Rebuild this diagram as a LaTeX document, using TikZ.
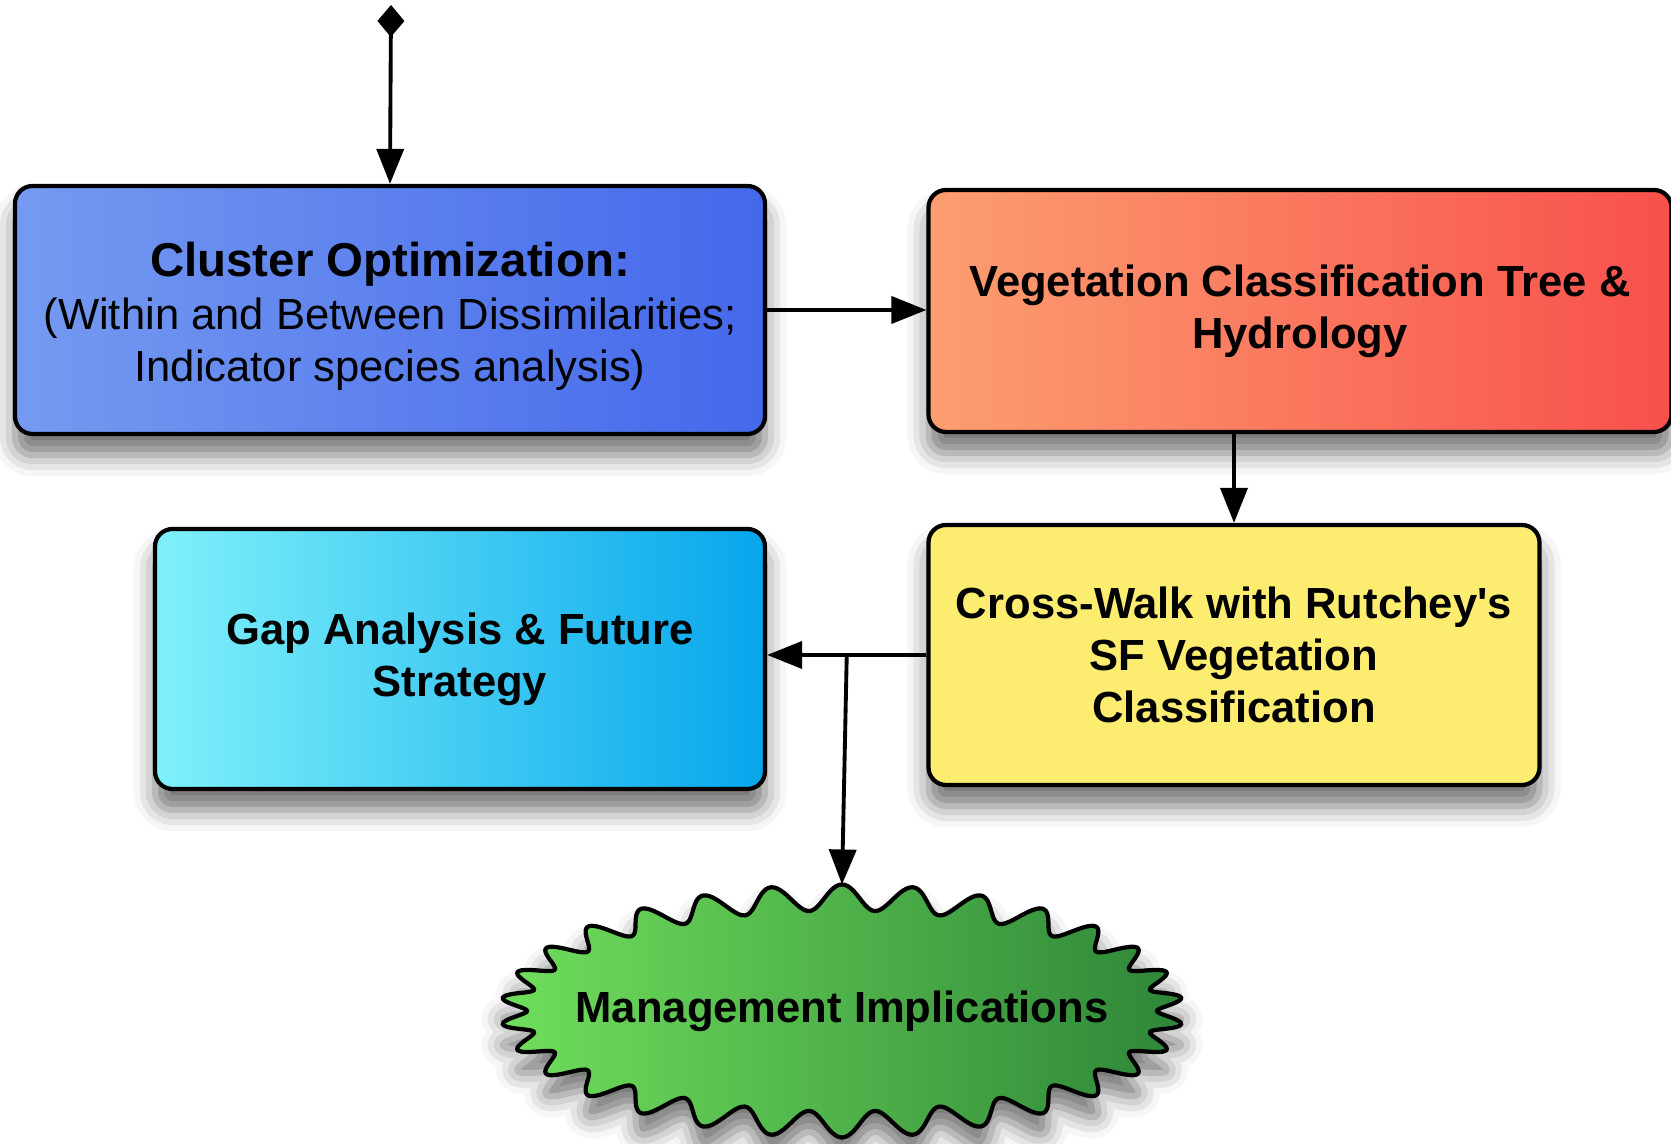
\documentclass[tikz,border=0pt]{standalone}
\usepackage{fontspec}
\setmainfont{Liberation Sans}
\usetikzlibrary{arrows.meta,shapes.geometric,shadows.blur}

\definecolor{clusterleft}{RGB}{117,154,240}
\definecolor{clusterright}{RGB}{68,104,235}
\definecolor{vegleft}{RGB}{252,158,112}
\definecolor{vegright}{RGB}{248,80,76}
\definecolor{walkfill}{RGB}{252,236,112}
\definecolor{gapleft}{RGB}{128,241,250}
\definecolor{gapright}{RGB}{6,166,236}
\definecolor{mgmtleft}{RGB}{112,222,92}
\definecolor{mgmtright}{RGB}{46,134,56}

\begin{document}
\begin{tikzpicture}[
    softshadow/.style={blur shadow={shadow xshift=0pt, shadow yshift=-6pt, shadow blur radius=6pt, shadow opacity=55}},
    box/.style={rectangle, rounded corners=5pt, draw, line width=1.2pt, align=center,
      font=\bfseries\fontsize{12.4}{14.8}\selectfont, softshadow},
    link/.style={line width=1.1pt, -{Triangle[length=0.35cm, width=0.27cm]}}]
  \useasboundingbox (0,0) rectangle (16.71,11.44);

  \node[box, minimum width=7.5cm, minimum height=2.48cm, left color=clusterleft, right color=clusterright,
    font=\fontsize{12.4}{14.8}\selectfont] (cluster) at (3.90,8.34)
    {{\fontsize{13.5}{14.8}\selectfont\bfseries\rule{0pt}{13.4pt}Cluster Optimization:}\\
     (Within and Between Dissimilarities;\\
     Indicator species analysis)};
  \node[box, minimum width=7.43cm, minimum height=2.42cm, left color=vegleft, right color=vegright] (veg) at (13.00,8.33)
    {Vegetation Classification Tree \&\\Hydrology};
  \node[box, minimum width=6.11cm, minimum height=2.6cm, fill=walkfill] (xwalk) at (12.34,4.89)
    {Cross-Walk with Rutchey\textquotesingle s\\SF Vegetation\\Classification};
  \node[box, minimum width=6.1cm, minimum height=2.6cm, left color=gapleft, right color=gapright] (gap) at (4.60,4.85)
    {Gap Analysis \& Future\\Strategy};

  % wavy burst drawn round an invisible ellipse
  \node[ellipse, minimum width=6.82cm, minimum height=2.53cm, inner sep=0pt, outer sep=0pt] (mgmt) at (8.42,1.33) {};
  \begin{scope}[shift={(mgmt.center)}]
    \draw[line width=1.2pt, left color=mgmtleft, right color=mgmtright, softshadow]
      plot[domain=0:360, samples=721, variable=\t]
        ({(3.28+0.13*cos(30*(\t-90)))*cos(\t)}, {(1.135+0.13*cos(30*(\t-90)))*sin(\t)}) -- cycle;
  \end{scope}
  \node[font=\bfseries\fontsize{12.4}{14.8}\selectfont] (mgmttext) at (mgmt.center) {Management Implications};

  \coordinate (entry) at (3.91,11.39);
  \draw[link, {Diamond[length=0.32cm, width=0.27cm]}-{Triangle[length=0.35cm, width=0.27cm]}] (entry) -- (cluster.north);
  \draw[link] (cluster.east) -- (cluster.east -| veg.west);
  \draw[link] (veg.south -| xwalk.north) -- (xwalk.north);
  \draw[link] (xwalk.west) -- coordinate (split) (xwalk.west -| gap.east);
  \draw[link] (split) -- (mgmt.north);
\end{tikzpicture}
\end{document}
